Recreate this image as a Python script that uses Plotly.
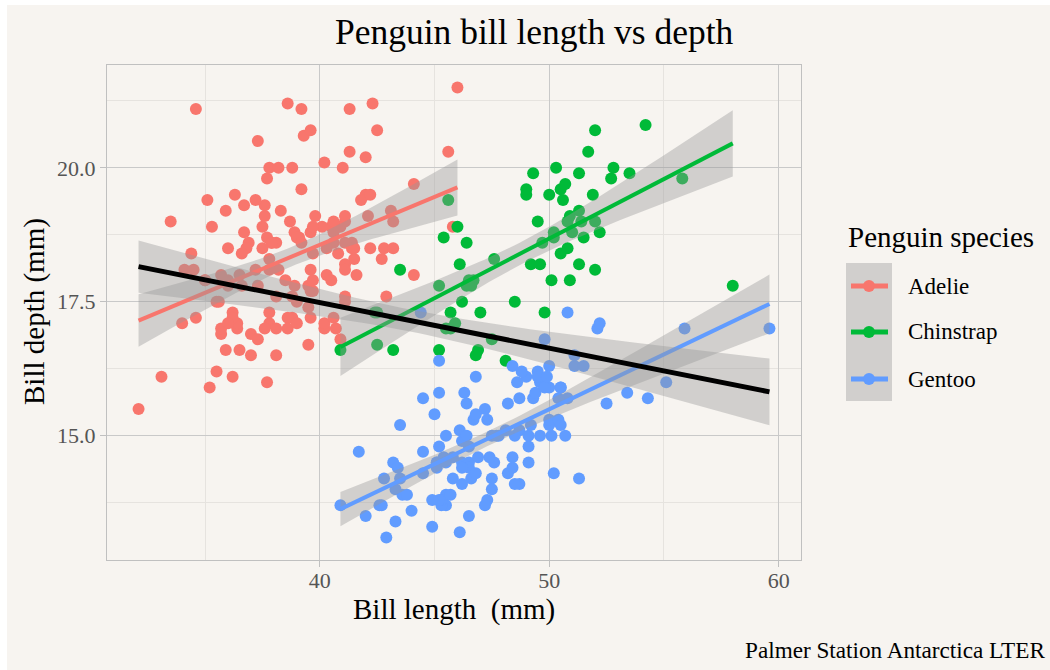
import numpy as np
import plotly.graph_objects as go

# ---------------- data (Palmer penguins: bill length / bill depth, mm) ----------------
species = ["Adelie", "Chinstrap", "Gentoo"]
colors = {"Adelie": "#F8766D", "Chinstrap": "#00BA38", "Gentoo": "#619CFF"}

adelie_len = [39.1, 39.5, 40.3, 36.7, 39.3, 38.9, 39.2, 34.1, 42.0, 37.8, 37.8, 41.1, 38.6, 34.6, 36.6,
              38.7, 42.5, 34.4, 46.0, 37.8, 37.7, 35.9, 38.2, 38.8, 35.3, 40.6, 40.5, 37.9, 40.5, 39.5,
              37.2, 39.5, 40.9, 36.4, 39.2, 38.8, 42.2, 37.6, 39.8, 36.5, 40.8, 36.0, 44.1, 37.0, 39.6,
              41.1, 37.5, 36.0, 42.3, 39.6, 40.1, 35.0, 42.0, 34.5, 41.4, 39.0, 40.6, 36.5, 37.6, 35.7,
              41.3, 37.6, 41.1, 36.4, 41.6, 35.5, 41.1, 35.9, 41.8, 33.5, 39.7, 39.6, 45.8, 35.5, 42.8,
              40.9, 37.2, 36.2, 42.1, 34.6, 42.9, 36.7, 35.1, 37.3, 41.3, 36.3, 36.9, 38.3, 38.9, 35.7,
              41.1, 34.0, 39.6, 36.2, 40.8, 38.1, 40.3, 33.1, 43.2, 35.0, 41.0, 37.7, 37.8, 37.9, 39.7,
              38.6, 38.2, 38.1, 43.2, 38.1, 45.6, 39.7, 42.2, 39.6, 42.7, 38.6, 37.3, 35.7, 41.1, 36.2,
              37.7, 40.2, 41.4, 35.2, 40.6, 38.8, 41.5, 39.0, 44.1, 38.5, 43.1, 36.8, 37.5, 38.1, 41.1,
              35.6, 40.2, 37.0, 39.7, 40.2, 40.6, 32.1, 40.7, 37.3, 39.0, 39.2, 36.6, 36.0, 37.8, 36.0,
              41.5]
adelie_dep = [18.7, 17.4, 18.0, 19.3, 20.6, 17.8, 19.6, 18.1, 20.2, 17.1, 17.3, 17.6, 21.2, 21.1, 17.8,
              19.0, 20.7, 18.4, 21.5, 18.3, 18.7, 19.2, 18.1, 17.2, 18.9, 18.6, 17.9, 18.6, 18.9, 16.7,
              18.1, 17.8, 18.9, 17.0, 21.1, 20.0, 18.5, 19.3, 19.1, 18.0, 18.4, 18.5, 19.7, 16.9, 18.8,
              19.0, 18.9, 17.9, 21.2, 17.7, 18.9, 17.9, 19.5, 18.1, 18.6, 17.5, 18.8, 16.6, 19.1, 16.9,
              21.1, 17.0, 18.2, 17.1, 18.0, 16.2, 19.1, 16.6, 19.4, 19.0, 18.4, 17.2, 18.9, 17.5, 18.5,
              16.8, 19.4, 16.1, 19.1, 17.2, 17.6, 18.8, 19.4, 17.8, 20.3, 19.5, 18.6, 19.2, 18.8, 18.0,
              18.1, 17.1, 18.1, 17.3, 18.9, 18.6, 18.5, 16.1, 18.5, 17.9, 20.0, 16.0, 20.0, 18.6, 18.9,
              17.2, 20.0, 17.0, 19.0, 16.5, 20.3, 17.7, 19.5, 20.7, 18.3, 17.0, 20.5, 17.0, 18.6, 17.2,
              19.8, 17.0, 18.5, 15.9, 19.0, 17.6, 18.3, 17.1, 18.0, 17.9, 19.2, 18.5, 18.5, 17.6, 17.5,
              17.5, 20.1, 16.5, 17.9, 17.1, 17.2, 15.5, 17.0, 16.8, 18.7, 18.6, 18.4, 17.8, 18.1, 17.1,
              18.5]

gentoo_len = [46.1, 50.0, 48.7, 50.0, 47.6, 46.5, 45.4, 46.7, 43.3, 46.8, 40.9, 49.0, 45.5, 48.4, 45.8,
              49.3, 42.0, 49.2, 46.2, 48.7, 50.2, 45.1, 46.5, 46.3, 42.9, 46.1, 44.5, 47.8, 48.2, 50.0,
              47.3, 42.8, 45.1, 59.6, 49.1, 48.4, 42.6, 44.4, 44.0, 48.7, 42.7, 49.6, 45.3, 49.6, 50.5,
              43.6, 45.5, 50.5, 44.9, 45.2, 46.6, 48.5, 45.1, 50.1, 46.5, 45.0, 43.8, 45.5, 43.2, 50.4,
              45.3, 46.2, 45.7, 54.3, 45.8, 49.8, 46.2, 49.5, 43.5, 50.7, 47.7, 46.4, 48.2, 46.5, 46.4,
              48.6, 47.5, 51.1, 45.2, 45.2, 49.1, 52.5, 47.4, 50.0, 44.9, 50.8, 43.4, 51.3, 47.5, 52.1,
              47.5, 52.2, 45.5, 49.5, 44.5, 50.8, 49.4, 46.9, 48.4, 51.1, 48.5, 55.9, 47.2, 49.1, 47.3,
              46.8, 41.7, 53.4, 43.3, 48.1, 50.5, 49.8, 43.5, 51.5, 46.2, 55.1, 44.5, 48.8, 47.2, 46.8,
              50.4, 45.2, 49.9]
gentoo_dep = [13.2, 16.3, 14.1, 15.2, 14.5, 13.5, 14.6, 15.3, 13.4, 15.4, 13.7, 16.1, 13.7, 14.6, 14.6,
              15.7, 13.5, 15.2, 14.5, 15.1, 14.3, 14.5, 14.5, 15.8, 13.1, 15.1, 14.3, 15.0, 14.3, 15.3,
              15.3, 14.2, 14.5, 17.0, 14.8, 16.3, 13.7, 17.3, 13.6, 15.7, 13.7, 16.0, 13.7, 15.0, 15.9,
              13.9, 13.9, 15.9, 13.3, 15.8, 14.2, 14.1, 14.4, 15.0, 14.4, 15.4, 13.9, 15.0, 14.5, 15.3,
              13.8, 14.9, 13.9, 15.7, 14.2, 16.8, 14.4, 16.2, 14.2, 15.0, 15.0, 15.6, 15.6, 14.8, 15.0,
              16.0, 14.2, 16.3, 13.8, 16.4, 14.5, 15.6, 14.6, 15.9, 13.8, 17.3, 14.4, 14.2, 14.0, 17.0,
              15.0, 17.1, 14.5, 16.1, 14.7, 15.7, 15.8, 14.6, 14.4, 16.5, 15.0, 17.0, 15.5, 15.0, 13.8,
              16.1, 14.7, 15.8, 14.0, 15.1, 15.2, 15.9, 15.2, 16.3, 14.1, 16.0, 15.7, 16.2, 13.7, 14.3,
              15.7, 14.8, 16.1]

chinstrap_len = [46.5, 50.0, 51.3, 45.4, 52.7, 45.2, 46.1, 51.3, 46.0, 51.3, 46.6, 51.7, 47.0, 52.0, 45.9,
                 50.5, 50.3, 58.0, 46.4, 49.2, 42.4, 48.5, 43.2, 50.6, 46.7, 52.0, 50.5, 49.5, 46.4, 52.8,
                 40.9, 54.2, 42.5, 51.0, 49.7, 47.5, 47.6, 52.0, 46.9, 53.5, 49.0, 46.2, 50.9, 45.5, 50.9,
                 50.8, 50.1, 49.0, 51.5, 49.8, 48.1, 51.4, 45.7, 50.7, 42.5, 52.2, 45.2, 49.3, 50.2, 45.6,
                 51.9, 46.8, 45.7, 55.8, 43.5, 49.6, 50.8, 50.2]
chinstrap_dep = [17.9, 19.5, 19.2, 18.7, 19.8, 17.8, 18.2, 18.2, 18.9, 19.9, 17.8, 20.3, 17.3, 18.1, 17.1,
                 19.6, 20.0, 17.8, 18.6, 18.2, 17.3, 17.5, 16.6, 19.4, 17.9, 19.0, 18.4, 19.0, 17.8, 20.0,
                 16.6, 20.8, 16.7, 18.8, 18.6, 16.8, 18.3, 20.7, 16.6, 19.9, 19.5, 17.5, 19.1, 17.0, 17.9,
                 18.5, 17.9, 19.6, 18.7, 17.3, 16.4, 19.0, 17.3, 19.7, 17.3, 18.8, 16.6, 19.9, 18.8, 19.4,
                 19.5, 16.5, 17.0, 19.8, 18.1, 18.2, 19.0, 18.7]

data = {
    "Adelie": (adelie_len, adelie_dep),
    "Chinstrap": (chinstrap_len, chinstrap_dep),
    "Gentoo": (gentoo_len, gentoo_dep),
}
for k, (a, b) in data.items():
    assert len(a) == len(b), k

x_ticks = [40, 50, 60]
y_ticks = [15.0, 17.5, 20.0]

# ---------------- helpers ----------------
def t975(df):
    z = 1.959963984540054
    return (z + (z**3 + z) / (4 * df) + (5 * z**5 + 16 * z**3 + 3 * z) / (96 * df**2)
            + (3 * z**7 + 19 * z**5 + 17 * z**3 - 15 * z) / (384 * df**3))

def lm_fit(x, y, n_grid=80):
    x = np.asarray(x, float)
    y = np.asarray(y, float)
    n = len(x)
    xb = x.mean()
    sxx = ((x - xb) ** 2).sum()
    b1 = ((x - xb) * (y - y.mean())).sum() / sxx
    b0 = y.mean() - b1 * xb
    resid = y - (b0 + b1 * x)
    s = np.sqrt((resid ** 2).sum() / (n - 2))
    g = np.linspace(x.min(), x.max(), n_grid)
    yh = b0 + b1 * g
    se = s * np.sqrt(1.0 / n + (g - xb) ** 2 / sxx)
    t = t975(n - 2)
    return g, yh, yh - t * se, yh + t * se

BG = "#F7F4F0"
BAND = "rgba(153,153,153,0.4)"
FONT = "Liberation Serif"

fig = go.Figure()

# points
for sp in species:
    xs, ys = data[sp]
    fig.add_trace(go.Scatter(x=xs, y=ys, mode="markers",
                             marker=dict(color=colors[sp], size=12, line=dict(width=0)),
                             showlegend=False, hoverinfo="skip"))

def add_smooth(xs, ys, color, width):
    g, yh, lo, hi = lm_fit(xs, ys)
    fig.add_trace(go.Scatter(x=np.concatenate([g, g[::-1]]), y=np.concatenate([hi, lo[::-1]]),
                             fill="toself", fillcolor=BAND, line=dict(width=0), mode="lines",
                             showlegend=False, hoverinfo="skip"))
    fig.add_trace(go.Scatter(x=g, y=yh, mode="lines", line=dict(color=color, width=width),
                             showlegend=False, hoverinfo="skip"))

for sp in species:
    add_smooth(data[sp][0], data[sp][1], colors[sp], 4)

all_x = adelie_len + chinstrap_len + gentoo_len
all_y = adelie_dep + chinstrap_dep + gentoo_dep
add_smooth(all_x, all_y, "black", 5)

# ---------------- layout ----------------
L, R, T, B = 107, 249, 65, 110
W, H = 1050, 670
PW, PH = W - L - R, H - T - B

def px(xp):
    return (xp - L) / PW

def py(yp):
    return (H - B - yp) / PH

xmin, xmax = min(all_x), max(all_x)
ymin, ymax = min(all_y), max(all_y)
xr = [xmin - 0.05 * (xmax - xmin), xmax + 0.05 * (xmax - xmin)]
yr = [ymin - 0.05 * (ymax - ymin), ymax + 0.05 * (ymax - ymin)]

axis_common = dict(showline=True, mirror=True, linecolor="#C0C0C0", linewidth=1.2,
                   showgrid=True, gridcolor="#C9C9C9", gridwidth=1.2, zeroline=False,
                   ticks="outside", ticklen=6, tickcolor="#C0C0C0", tickwidth=1.2,
                   tickfont=dict(family=FONT, size=22, color="#555555"), automargin=False)

fig.update_xaxes(range=xr, tickvals=x_ticks, ticktext=[str(v) for v in x_ticks],
                 ticklabelstandoff=-6,
                 minor=dict(tickvals=[35, 45, 55], showgrid=True, gridcolor="#E6E3DF", gridwidth=1,
                            ticks=""),
                 **axis_common)
fig.update_yaxes(range=yr, tickvals=y_ticks, ticktext=[f"{v:.1f}" for v in y_ticks],
                 minor=dict(tickvals=[13.75, 16.25, 18.75, 21.25], showgrid=True, gridcolor="#E6E3DF",
                            gridwidth=1, ticks=""),
                 **axis_common)

shapes = [
    dict(type="rect", xref="paper", yref="paper", x0=px(7), x1=px(W + 5), y0=py(H + 5), y1=py(5),
         fillcolor=BG, line=dict(width=0), layer="below"),
    # legend key background
    dict(type="rect", xref="paper", yref="paper", x0=px(846), x1=px(892), y0=py(401), y1=py(263),
         fillcolor=BAND, line=dict(width=0)),
]
annotations = [
    dict(text="Penguin bill length vs depth", x=px(534), y=py(32), xref="paper", yref="paper",
         showarrow=False, xanchor="center", yanchor="middle",
         font=dict(family=FONT, size=35.5, color="black")),
    dict(text="Bill length\u00a0 (mm)", x=px(454), y=py(609), xref="paper", yref="paper",
         showarrow=False, xanchor="center", yanchor="middle",
         font=dict(family=FONT, size=29, color="black")),
    dict(text="Bill depth (mm)", x=px(34), y=py(312), xref="paper", yref="paper", textangle=-90,
         showarrow=False, xanchor="center", yanchor="middle",
         font=dict(family=FONT, size=29, color="black")),
    dict(text="Palmer Station Antarctica LTER", x=px(1047), y=py(650), xref="paper", yref="paper",
         showarrow=False, xanchor="right", yanchor="middle",
         font=dict(family=FONT, size=23.2, color="black")),
    dict(text="Penguin species", x=px(846), y=py(237), xref="paper", yref="paper",
         showarrow=False, xanchor="left", yanchor="middle",
         font=dict(family=FONT, size=29, color="black")),
]
key_y = {"Adelie": 286, "Chinstrap": 332, "Gentoo": 379}
for sp in species:
    yk = key_y[sp]
    shapes.append(dict(type="line", xref="paper", yref="paper", x0=px(851), x1=px(888),
                       y0=py(yk), y1=py(yk), line=dict(color=colors[sp], width=5)))
    shapes.append(dict(type="circle", xref="paper", yref="paper", x0=px(869 - 6), x1=px(869 + 6),
                       y0=py(yk + 6), y1=py(yk - 6), fillcolor=colors[sp], line=dict(width=0)))
    annotations.append(dict(text=sp, x=px(906), y=py(yk), xref="paper", yref="paper",
                            showarrow=False, xanchor="left", yanchor="middle",
                            font=dict(family=FONT, size=23, color="black")))

fig.update_layout(
    width=W, height=H,
    margin=dict(l=L, r=R, t=T, b=B, pad=0),
    paper_bgcolor="white", plot_bgcolor=BG,
    showlegend=False,
    shapes=shapes, annotations=annotations,
    font=dict(family=FONT),
)

fig.write_html("out.html")
